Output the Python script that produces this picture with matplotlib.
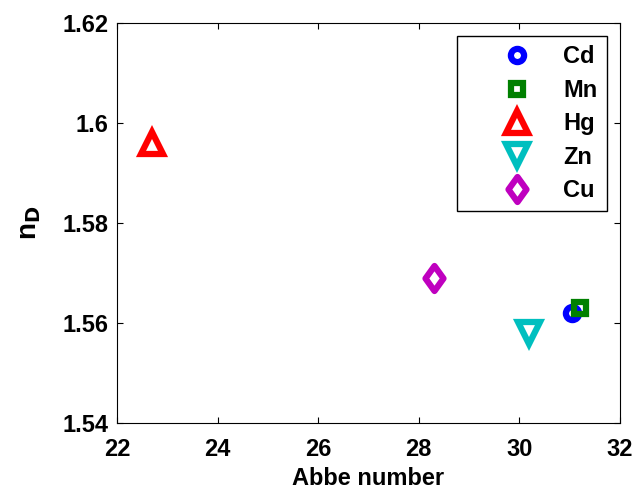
import matplotlib.pyplot as plt
from matplotlib.path import Path

# Abbe number vs refractive index n_D
labels = ['Cd', 'Mn', 'Hg', 'Zn', 'Cu']
abbe = [31.05, 31.2, 22.7, 30.2, 28.3]
n_d = [1.562, 1.563, 1.596, 1.558, 1.569]

# MATLAB-like diamond (a bit taller than wide)
diamond = Path([(0, 1), (0.72, 0), (0, -1), (-0.72, 0), (0, 1)],
               [Path.MOVETO, Path.LINETO, Path.LINETO, Path.LINETO, Path.CLOSEPOLY])
markers = ['o', 's', '^', 'v', diamond]
colors = ['#0000ff', '#008000', '#ff0000', '#00bfbf', '#bf00bf']
sizes = [9.5, 9, 16, 16, 18]

plt.rcParams['font.family'] = ['Liberation Sans', 'DejaVu Sans']
plt.rcParams['font.weight'] = 'bold'
plt.rcParams['mathtext.default'] = 'bf'

fig = plt.figure(figsize=(6.35, 4.9), dpi=100)
ax = fig.add_axes([117 / 635, 1 - 423 / 490, 503 / 635, 400 / 490])

for lab, x, y, m, c, s in zip(labels, abbe, n_d, markers, colors, sizes):
    ax.plot(x, y, linestyle='none', marker=m, markersize=s, markerfacecolor='none',
            markeredgecolor=c, markeredgewidth=4.5, label=lab)

ax.set_xlim(22, 32)
ax.set_ylim(1.54, 1.62)
ax.set_xticks([22, 24, 26, 28, 30, 32])
ax.set_yticks([1.54, 1.56, 1.58, 1.6, 1.62])
ax.set_yticklabels(['1.54', '1.56', '1.58', '1.6', '1.62'])
ax.tick_params(direction='in', labelsize=17, length=4, top=True, right=True)
ax.tick_params(axis='x', pad=11)
ax.tick_params(axis='y', pad=6)
ax.set_xlabel('Abbe number', fontsize=17, fontweight='bold', labelpad=4)
ax.set_ylabel('n$_D$', fontsize=20, fontweight='bold', labelpad=14)

leg = ax.legend(loc='upper right', bbox_to_anchor=(607 / 635, 1 - 36 / 490),
                bbox_transform=fig.transFigure, fontsize=17, frameon=True,
                fancybox=False, edgecolor='black', framealpha=1,
                handlelength=4.3, handletextpad=-0.2, borderpad=0.4,
                labelspacing=0.44, borderaxespad=0)
leg.get_frame().set_linewidth(1.0)

plt.savefig('out.png', dpi=100)
